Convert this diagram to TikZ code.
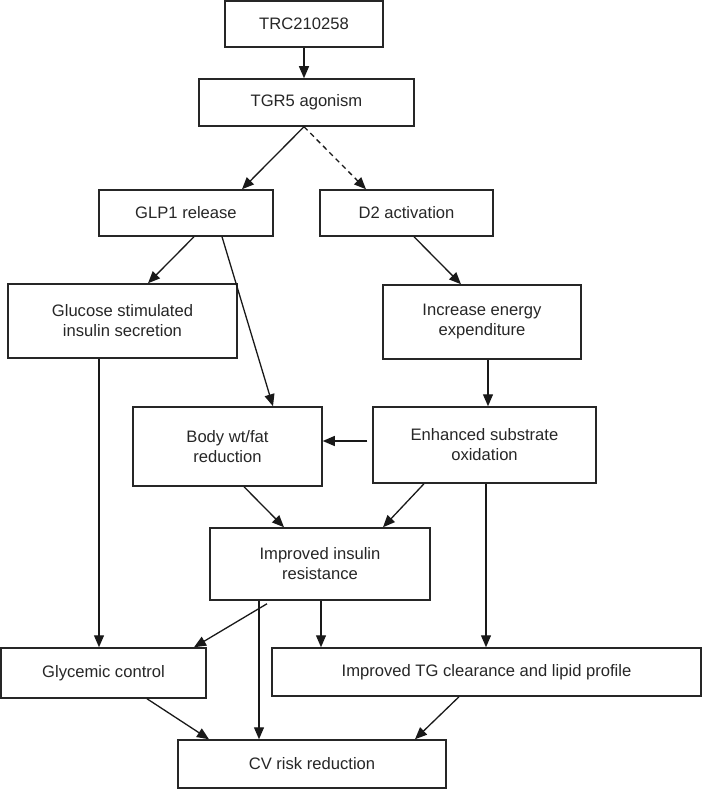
\documentclass[tikz,border=0pt]{standalone}
\usepackage{fontspec}
\setmainfont{Liberation Sans}
\usetikzlibrary{arrows.meta}
\begin{document}
\begin{tikzpicture}[x=1pt,y=-1pt,
  box/.style={draw=black!85, line width=1.5pt, rectangle, inner sep=0pt, align=center,
    font=\fontsize{16.6pt}{20pt}\selectfont, text=black!85},
  arr/.style={line width=1.3pt, draw=black!90, -{Triangle[length=12pt,width=10pt]}},
  dsh/.style={arr, dash pattern=on 5pt off 4pt}]
\useasboundingbox (0,0) rectangle (702,789);
\node[box, minimum width=158pt, minimum height=46pt] (trc) at (304,24) {TRC210258};
\node[box, minimum width=215pt, minimum height=47pt] (tgr) at (306.5,102.5) {TGR5 agonism};
\node[box, minimum width=174pt, minimum height=46pt] (glp) at (186,213) {GLP1 release};
\node[box, minimum width=173pt, minimum height=46pt] (d2) at (406.5,213) {D2 activation};
\node[box, minimum width=229pt, minimum height=74pt] (gluc) at (122.5,321) {Glucose stimulated\\insulin secretion};
\node[box, minimum width=198pt, minimum height=74pt] (incr) at (482,322) {Increase energy\\expenditure};
\node[box, minimum width=189pt, minimum height=79pt] (body) at (227.5,446.5) {Body wt/fat\\reduction};
\node[box, minimum width=223pt, minimum height=76pt] (enh) at (484.5,445) {Enhanced substrate\\oxidation};
\node[box, minimum width=220pt, minimum height=72pt] (iir) at (320,564) {Improved insulin\\resistance};
\node[box, minimum width=205pt, minimum height=50pt] (glyc) at (103.5,673) {Glycemic control};
\node[box, minimum width=429pt, minimum height=48pt] (tg) at (486.5,672) {Improved TG clearance and lipid profile};
\node[box, minimum width=268pt, minimum height=48pt] (cv) at (312,764) {CV risk reduction};

\draw[arr] (304,0 |- trc.south) -- (304,0 |- tgr.north);
\draw[arr] (304,0 |- tgr.south) -- (242,0 |- glp.north);
\draw[dsh] (304,0 |- tgr.south) -- (366,0 |- d2.north);
\draw[arr] (194,0 |- glp.south) -- (148,0 |- gluc.north);
\draw[arr] (222,0 |- glp.south) -- (273,0 |- body.north);
\draw[arr] (414,0 |- d2.south) -- (461,0 |- incr.north);
\draw[arr] (488,0 |- incr.south) -- (488,0 |- enh.north);
\draw[arr] ([xshift=-5pt]enh.west |- 0,441) -- (body.east |- 0,441);
\draw[arr] (244,0 |- body.south) -- (284,0 |- iir.north);
\draw[arr] (424,0 |- enh.south) -- (383,0 |- iir.north);
\draw[arr] ([yshift=-3pt]267,0 |- iir.south) -- (194,0 |- glyc.north);
\draw[arr] (259,0 |- iir.south) -- (259,0 |- cv.north);
\draw[arr] (321,0 |- iir.south) -- (321,0 |- tg.north);
\draw[arr] (486,0 |- enh.south) -- (486,0 |- tg.north);
\draw[arr] (99,0 |- gluc.south) -- (99,0 |- glyc.north);
\draw[arr] (147,0 |- glyc.south) -- (209,0 |- cv.north);
\draw[arr] (459,0 |- tg.south) -- (415,0 |- cv.north);
\end{tikzpicture}
\end{document}
